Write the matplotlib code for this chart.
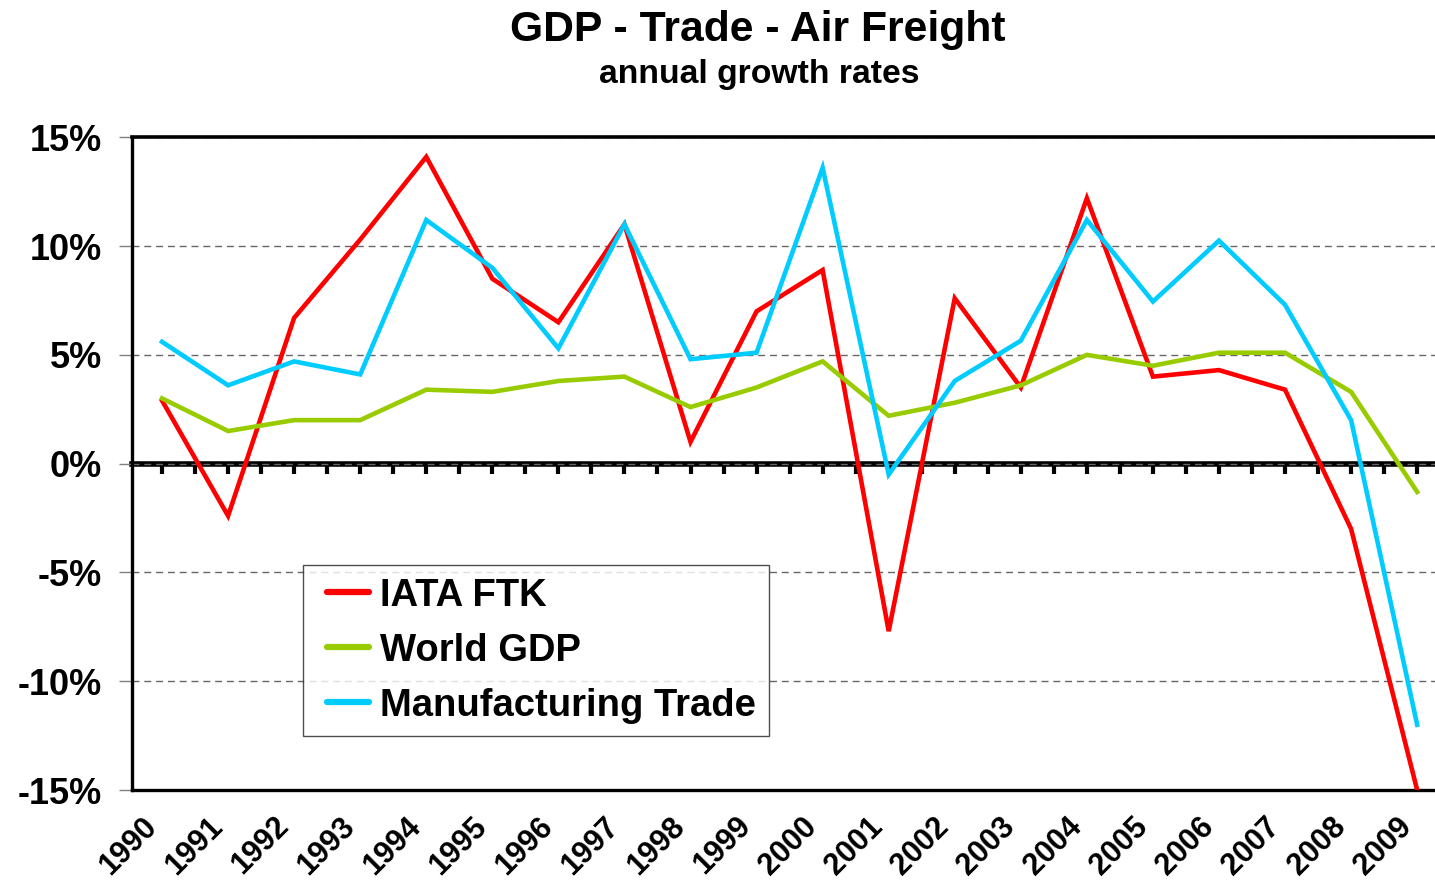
import numpy as np
import matplotlib
matplotlib.use("Agg")
import matplotlib.pyplot as plt
from matplotlib.lines import Line2D
from matplotlib.transforms import ScaledTranslation
from matplotlib.legend_handler import HandlerLine2D

plt.rcParams['font.family'] = ['Liberation Sans', 'DejaVu Sans']
plt.rcParams['font.weight'] = 'bold'

years = [str(y) for y in range(1990, 2010)]
iata_ftk = [2.9, -2.4, 6.7, 10.3, 14.1, 8.5, 6.5, 11.0, 1.0, 7.0,
            8.9, -7.7, 7.6, 3.5, 12.2, 4.0, 4.3, 3.4, -3.0, -15.0]
world_gdp = [3.0, 1.5, 2.0, 2.0, 3.4, 3.3, 3.8, 4.0, 2.6, 3.5,
             4.7, 2.2, 2.8, 3.6, 5.0, 4.5, 5.1, 5.1, 3.3, -1.3]
manuf_trade = [5.6, 3.6, 4.7, 4.1, 11.2, 9.0, 5.3, 11.0, 4.8, 5.1,
               13.6, -0.5, 3.8, 5.65, 11.2, 7.45, 10.25, 7.3, 2.0, -12.0]
y_ticks = [-15, -10, -5, 0, 5, 10, 15]

series = [("IATA FTK", iata_ftk, "#FF0000"),
          ("World GDP", world_gdp, "#99CC00"),
          ("Manufacturing Trade", manuf_trade, "#00CCFF")]

W, H = 1435, 884
fig = plt.figure(figsize=(W / 100, H / 100), dpi=100)
left, right, top, bottom = 131.7, 1435, 137.3, 790
ax = fig.add_axes([left / W, 1 - bottom / H, (right - left) / W, (bottom - top) / H])

x = np.arange(len(years))
for name, vals, col in series:
    ax.plot(x, vals, color=col, lw=3.3, label=name, zorder=3,
            solid_joinstyle='miter')

ax.set_xlim(-0.459, 19.27)
ax.set_ylim(-15, 15)

# spines
ax.spines['right'].set_visible(False)
ax.spines['top'].set_linewidth(2.6)
ax.spines['left'].set_linewidth(2.4)
ax.spines['bottom'].set_linewidth(2.4)

# y axis
ax.set_yticks(y_ticks)
ax.set_yticklabels([f"{v}%" for v in y_ticks], fontsize=26, fontweight='bold')
ax.tick_params(axis='y', length=9.5, width=1.0, color='#808080', pad=12)

# grid
ax.set_axisbelow(True)
ax.yaxis.grid(True, color='#666666', lw=1.0, dashes=(5, 3.5))

# x axis labels at bottom
ax.set_xticks(x)
ax.set_xticklabels(years, fontsize=22, fontweight='bold', rotation=45,
                   ha='right', va='center', rotation_mode='anchor')
ax.tick_params(axis='x', length=0, pad=0)
off = ScaledTranslation(-10 / 100, -32 / 100, fig.dpi_scale_trans)
for lab in ax.get_xticklabels():
    lab.set_transform(lab.get_transform() + off)

# zero line with tick marks
sec = ax.secondary_xaxis(0.5)
sec.set_alignment('bottom')
sec.set_xticks(np.arange(0, 19.01, 0.5))
sec.tick_params(axis='x', direction='out', length=7, width=3.0,
                color='black', labelbottom=False, labeltop=False)
sec.spines['bottom'].set_linewidth(4.0)
sec.spines['bottom'].set_color('black')


class ShortLine(HandlerLine2D):
    def get_xdata(self, legend, xdescent, ydescent, width, height, fontsize):
        xd, xdm = super().get_xdata(legend, xdescent, ydescent, width,
                                    height, fontsize)
        xd = np.asarray(xd, dtype=float)
        span = xd[-1] - xd[0]
        return np.array([xd[0] + 0.22 * span, xd[-1]]), xdm


# legend
leg = ax.legend(loc='lower left', bbox_to_anchor=(0.1314, 0.0827),
                prop={'weight': 'bold', 'size': 27.5},
                frameon=True, fancybox=False, edgecolor='#222222',
                handlelength=1.42, handletextpad=0.29, borderpad=0.32,
                labelspacing=0.5, borderaxespad=0,
                handler_map={Line2D: ShortLine()})
leg.get_frame().set_linewidth(1.0)
for h in leg.get_lines():
    h.set_linewidth(4.5)
    h.set_solid_capstyle('round')

# titles
fig.text(758 / W, 1 - 30 / H, "GDP - Trade - Air Freight", ha='center',
         va='center', fontsize=30.7, fontweight='bold')
fig.text(759 / W, 1 - 75 / H, "annual growth rates", ha='center',
         va='center', fontsize=24.3, fontweight='bold')

fig.savefig("out.png", dpi=100)
